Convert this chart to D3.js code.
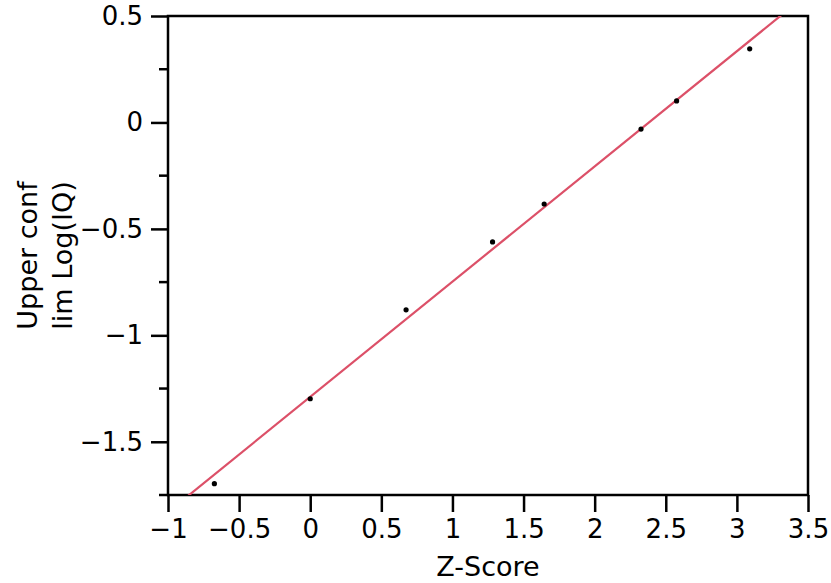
<!DOCTYPE html>
<html><head><meta charset="utf-8">
<script src="https://cdn.jsdelivr.net/npm/d3@7"></script>
<style>body{margin:0;background:#fff}svg{display:block}text{font-family:"DejaVu Sans",sans-serif;fill:#000}</style>
</head><body>
<svg id="c" width="831" height="583"></svg>
<script>
const zScores = [-0.674, 0, 0.674, 1.282, 1.645, 2.326, 2.576, 3.090];
const upperLogIQ = [-1.697, -1.298, -0.880, -0.561, -0.383, -0.031, 0.101, 0.346];
const xTicks = [-1, -0.5, 0, 0.5, 1, 1.5, 2, 2.5, 3, 3.5];
const yTicks = [-1.5, -1, -0.5, 0, 0.5];
const yMinorTicks = [-1.75, -1.25, -0.75, -0.25, 0.25];
const xDomain = [-1, 3.5];
const yDomain = [-1.75, 0.5];

const svg = d3.select("#c");
const m = {l:168, r:808, t:16, b:495};
const x = d3.scaleLinear().domain(xDomain).range([m.l, m.r]);
const y = d3.scaleLinear().domain(yDomain).range([m.b, m.t]);
const fmt = v => (v < 0 ? "\u2212" : "") + Math.abs(v);

// least squares fit
const mx = d3.mean(zScores), my = d3.mean(upperLogIQ);
let sxy = 0, sxx = 0;
zScores.forEach((v,i)=>{sxy += (v-mx)*(upperLogIQ[i]-my); sxx += (v-mx)*(v-mx);});
const slope = sxy/sxx, icpt = my - slope*mx;

svg.append("clipPath").attr("id","clip").append("rect")
  .attr("x", m.l).attr("y", m.t).attr("width", m.r-m.l).attr("height", m.b-m.t);

// frame
svg.append("rect").attr("x", m.l).attr("y", m.t).attr("width", m.r-m.l).attr("height", m.b-m.t)
  .attr("fill","none").attr("stroke","#000").attr("stroke-width",2.5);

// fit line
svg.append("line").attr("clip-path","url(#clip)")
  .attr("x1", x(xDomain[0])).attr("y1", y(icpt + slope*xDomain[0]))
  .attr("x2", x(xDomain[1])).attr("y2", y(icpt + slope*xDomain[1]))
  .attr("stroke","#dc5068").attr("stroke-width",2.2);

// points
svg.selectAll("circle.p").data(zScores).join("circle")
  .attr("cx", d=>x(d)).attr("cy", (d,i)=>y(upperLogIQ[i])).attr("r",2.6).attr("fill","#000");

// x axis
const xa = svg.append("g").attr("transform",`translate(0,${m.b})`)
  .call(d3.axisBottom(x).tickValues(xTicks).tickFormat(fmt).tickSize(17).tickPadding(8));
xa.select(".domain").remove();
xa.selectAll("line").attr("stroke","#000").attr("stroke-width",2.5);
xa.selectAll("text").attr("font-size",26).attr("font-family","DejaVu Sans");

// y axis
const ya = svg.append("g").attr("transform",`translate(${m.l},0)`)
  .call(d3.axisLeft(y).tickValues(yTicks).tickFormat(fmt).tickSize(17).tickPadding(8));
ya.select(".domain").remove();
ya.selectAll("line").attr("stroke","#000").attr("stroke-width",2.5);
ya.selectAll("text").attr("font-size",26).attr("font-family","DejaVu Sans");
svg.append("g").selectAll("line").data(yMinorTicks).join("line")
  .attr("x1", m.l-9).attr("x2", m.l).attr("y1", d=>y(d)).attr("y2", d=>y(d))
  .attr("stroke","#000").attr("stroke-width",2.5);

// titles
svg.append("text").attr("x", (m.l+m.r)/2).attr("y", 576).attr("text-anchor","middle")
  .attr("font-size",27).text("Z-Score");
const cy = (m.t+m.b)/2;
svg.append("text").attr("transform",`translate(37,${cy}) rotate(-90)`).attr("text-anchor","middle")
  .attr("font-size",27).text("Upper conf");
svg.append("text").attr("transform",`translate(72,${cy}) rotate(-90)`).attr("text-anchor","middle")
  .attr("font-size",27).text("lim Log(IQ)");
</script>
</body></html>
